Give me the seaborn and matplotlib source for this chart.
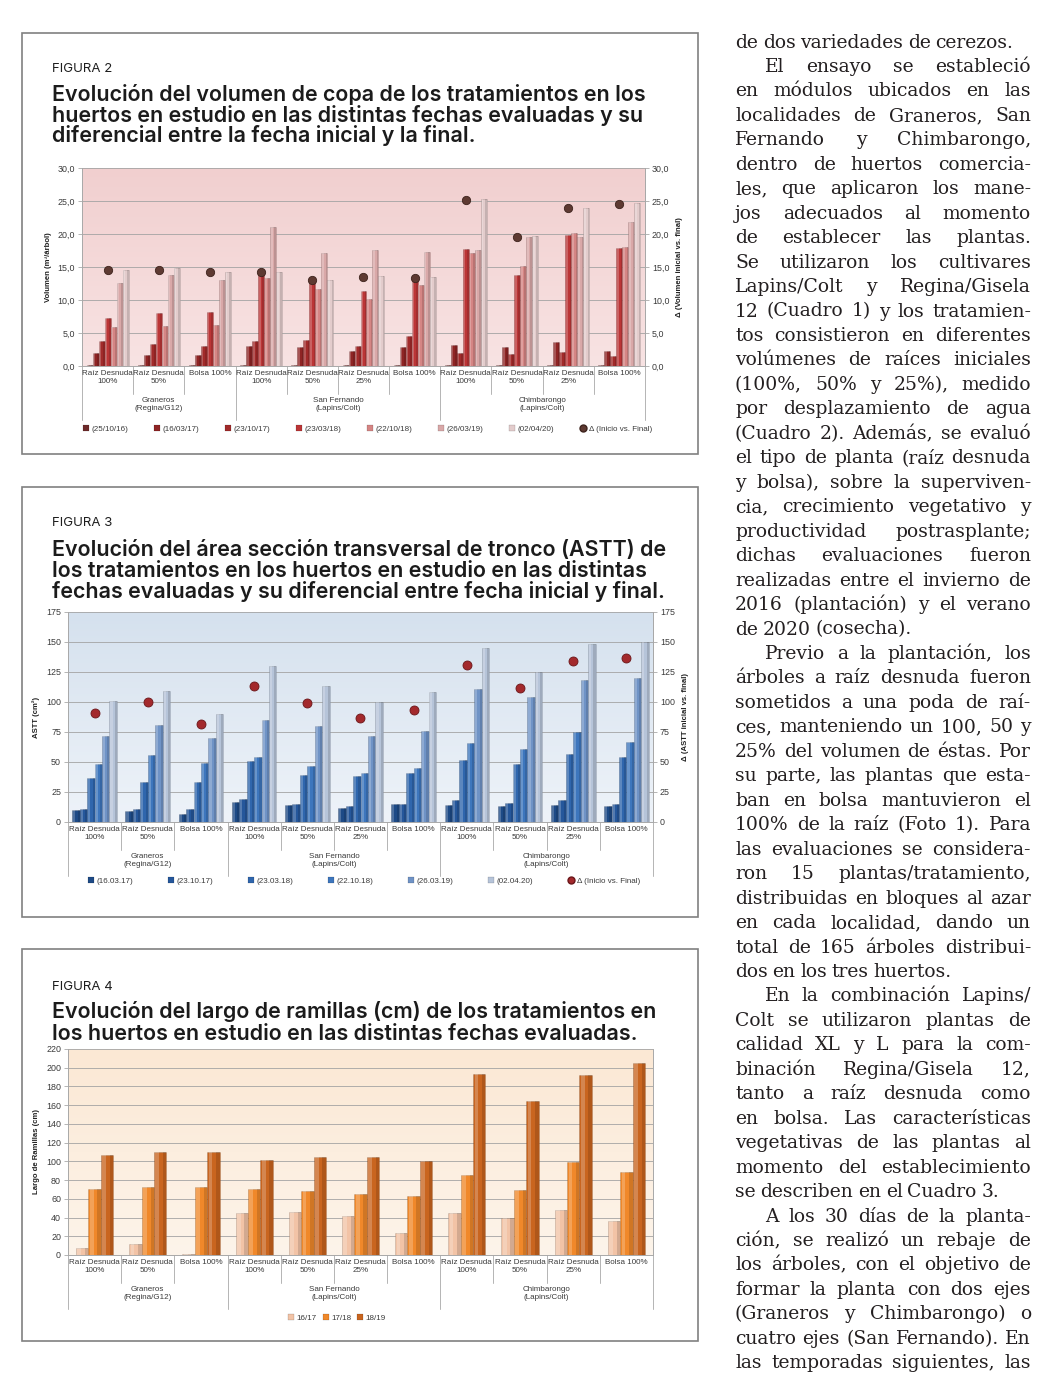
import numpy as np
import pandas as pd
import matplotlib
matplotlib.use("Agg")
import matplotlib.pyplot as plt
import seaborn as sns
from matplotlib.patches import Rectangle, Patch
from matplotlib.lines import Line2D
from matplotlib.colors import LinearSegmentedColormap
from matplotlib.font_manager import FontProperties
from matplotlib.transforms import blended_transform_factory

# ---------------------------------------------------------------- data
treatments = ["Raíz Desnuda\n100%", "Raíz Desnuda\n50%", "Bolsa 100%",
              "Raíz Desnuda\n100%", "Raíz Desnuda\n50%", "Raíz Desnuda\n25%", "Bolsa 100%",
              "Raíz Desnuda\n100%", "Raíz Desnuda\n50%", "Raíz Desnuda\n25%", "Bolsa 100%"]
sites = ["Graneros\n(Regina/G12)", "San Fernando\n(Lapins/Colt)", "Chimbarongo\n(Lapins/Colt)"]
site_counts = [3, 4, 4]

# Figura 2 : volumen de copa (m3/arbol)
fig2_series = ["(25/10/16)", "(16/03/17)", "(23/10/17)", "(23/03/18)",
               "(22/10/18)", "(26/03/19)", "(02/04/20)"]
vol_251016 = [0.1, 0.1, 0.1, 0.1, 0.1, 0.1, 0.1, 0.1, 0.1, 0.1, 0.1]
vol_160317 = [2.0, 1.6, 1.7, 3.1, 2.9, 2.3, 2.9, 3.2, 2.9, 3.7, 2.3]
vol_231017 = [3.8, 3.3, 3.0, 3.8, 3.9, 3.1, 4.5, 2.0, 1.8, 2.1, 1.5]
vol_230318 = [7.3, 8.1, 8.2, 14.6, 13.3, 11.4, 13.4, 17.8, 13.8, 19.8, 17.9]
vol_221018 = [5.9, 6.0, 6.2, 13.3, 11.6, 10.2, 12.2, 17.1, 15.1, 20.2, 18.1]
vol_260319 = [12.5, 13.8, 13.0, 21.1, 17.1, 17.5, 17.3, 17.5, 19.5, 19.6, 21.8]
vol_020420 = [14.6, 14.8, 14.3, 14.3, 13.0, 13.6, 13.5, 25.3, 19.7, 24.0, 24.7]
vol_delta = [14.5, 14.6, 14.2, 14.2, 13.0, 13.5, 13.4, 25.2, 19.6, 23.9, 24.6]

# Figura 3 : ASTT (cm2)
fig3_series = ["(16.03.17)", "(23.10.17)", "(23.03.18)", "(22.10.18)", "(26.03.19)", "(02.04.20)"]
astt_160317 = [10, 9, 7, 17, 14, 12, 15, 14, 13, 14, 13]
astt_231017 = [11, 11, 11, 19, 15, 13, 15, 18, 16, 18, 15]
astt_230318 = [37, 33, 33, 51, 39, 38, 41, 52, 48, 57, 54]
astt_221018 = [48, 56, 49, 54, 47, 41, 45, 66, 61, 75, 67]
astt_260319 = [72, 81, 70, 85, 80, 72, 76, 111, 104, 118, 120]
astt_020420 = [101, 109, 90, 130, 113, 100, 108, 145, 125, 148, 150]
astt_delta = [91, 100, 82, 113, 99, 87, 93, 131, 112, 134, 137]

# Figura 4 : largo de ramillas (cm)
fig4_series = ["16/17", "17/18", "18/19"]
ram_1617 = [8, 12, 1, 45, 46, 42, 23, 45, 39, 48, 36]
ram_1718 = [70, 73, 73, 71, 68, 65, 63, 85, 69, 99, 89]
ram_1819 = [107, 110, 110, 101, 105, 105, 100, 193, 164, 192, 205]

delta_label = "Δ (Inicio vs. Final)"

titles = {
    2: ["Evolución del volumen de copa de los tratamientos en los",
        "huertos en estudio en las distintas fechas evaluadas y su",
        "diferencial entre la fecha inicial y la final."],
    3: ["Evolución del área sección transversal de tronco (ASTT) de",
        "los tratamientos en los huertos en estudio en las distintas",
        "fechas evaluadas y su diferencial entre fecha inicial y final."],
    4: ["Evolución del largo de ramillas (cm) de los tratamientos en",
        "los huertos en estudio en las distintas fechas evaluadas."],
}

body_lines = [
    "de dos variedades de cerezos.",
    "El ensayo se estableció",
    "en módulos ubicados en las",
    "localidades de Graneros, San",
    "Fernando y Chimbarongo,",
    "dentro de huertos comercia-",
    "les, que aplicaron los mane-",
    "jos adecuados al momento",
    "de establecer las plantas.",
    "Se utilizaron los cultivares",
    "Lapins/Colt y Regina/Gisela",
    "12 (Cuadro 1) y los tratamien-",
    "tos consistieron en diferentes",
    "volúmenes de raíces iniciales",
    "(100%, 50% y 25%), medido",
    "por desplazamiento de agua",
    "(Cuadro 2). Además, se evaluó",
    "el tipo de planta (raíz desnuda",
    "y bolsa), sobre la superviven-",
    "cia, crecimiento vegetativo y",
    "productividad postrasplante;",
    "dichas evaluaciones fueron",
    "realizadas entre el invierno de",
    "2016 (plantación) y el verano",
    "de 2020 (cosecha).",
    "Previo a la plantación, los",
    "árboles a raíz desnuda fueron",
    "sometidos a una poda de raí-",
    "ces, manteniendo un 100, 50 y",
    "25% del volumen de éstas. Por",
    "su parte, las plantas que esta-",
    "ban en bolsa mantuvieron el",
    "100% de la raíz (Foto 1). Para",
    "las evaluaciones se considera-",
    "ron 15 plantas/tratamiento,",
    "distribuidas en bloques al azar",
    "en cada localidad, dando un",
    "total de 165 árboles distribui-",
    "dos en los tres huertos.",
    "En la combinación Lapins/",
    "Colt se utilizaron plantas de",
    "calidad XL y L para la com-",
    "binación Regina/Gisela 12,",
    "tanto a raíz desnuda como",
    "en bolsa. Las características",
    "vegetativas de las plantas al",
    "momento del establecimiento",
    "se describen en el Cuadro 3.",
    "A los 30 días de la planta-",
    "ción, se realizó un rebaje de",
    "los árboles, con el objetivo de",
    "formar la planta con dos ejes",
    "(Graneros y Chimbarongo) o",
    "cuatro ejes (San Fernando). En",
    "las temporadas siguientes, las",
]
indent_lines = {1, 25, 39, 48}
paragraph_end_lines = {0, 24, 38, 47}

# ---------------------------------------------------------------- setup
W, H, DPI = 1043, 1376, 100
sns.set_theme(style="white")
CHART_FONT = ["Liberation Sans", "DejaVu Sans"]
plt.rcParams["font.family"] = CHART_FONT
plt.rcParams["axes.unicode_minus"] = False

fig = plt.figure(figsize=(W / DPI, H / DPI), dpi=DPI)
fig.patch.set_facecolor("white")
renderer = fig.canvas.get_renderer()


def text_w(s, prop):
    w, h, d = renderer.get_text_width_height_descent(s, prop, ismath=False)
    return w


def fx(x):
    return x / W


def fy(y):
    return 1 - y / H


site_of = sum([[s] * n for s, n in zip(sites, site_counts)], [])
CAT = [f"{s.splitlines()[0]} | {t.replace(chr(10), ' ')}" for s, t in zip(site_of, treatments)]


def long_table(names, columns):
    recs = []
    for name, vals in zip(names, columns):
        for c, v in zip(CAT, vals):
            recs.append({"cat": c, "serie": name, "val": v})
    return pd.DataFrame(recs)


GRID = "#a3a3a3"
AX_C = "#a8a8a8"
LBL_C = "#3a3a3a"
CAT_FS = 5.8
TICK_FS = 6.4


def shade_bars(ax):
    # cylinder-like shading on each bar drawn by seaborn
    for p in list(ax.patches):
        x0, w, h = p.get_x(), p.get_width(), p.get_height()
        if h <= 0:
            continue
        ax.add_patch(Rectangle((x0 + 0.12 * w, 0), 0.3 * w, h, facecolor="white",
                               alpha=0.22, lw=0, zorder=p.get_zorder() + 0.1))
        ax.add_patch(Rectangle((x0 + 0.72 * w, 0), 0.28 * w, h, facecolor="black",
                               alpha=0.13, lw=0, zorder=p.get_zorder() + 0.1))


def chart(box, df, names, colors, width, ymax, step, fmt, ylabel, bg,
          delta=None, dcolor=None, dedge=None, dsize=34, rlabel=None):
    l, t, r, b = box
    hpx = b - t
    ax = fig.add_axes([fx(l), fy(b), (r - l) / W, hpx / H])
    sns.barplot(data=df, x="cat", y="val", hue="serie", order=CAT, hue_order=names,
                palette=colors, width=width, saturation=1, errorbar=None,
                legend=False, ax=ax, linewidth=0.4, edgecolor=(0, 0, 0, 0.22))
    shade_bars(ax)
    cmap = LinearSegmentedColormap.from_list("bg", bg)
    ax.imshow(np.linspace(0, 1, 256).reshape(-1, 1), extent=(0, 1, 0, 1),
              transform=ax.transAxes, cmap=cmap, aspect="auto", zorder=-5)
    ticks = np.arange(0, ymax + step / 2, step)
    ax.set_xlim(-0.5, len(CAT) - 0.5)
    ax.set_ylim(0, ymax)
    ax.set_yticks(ticks)
    ax.set_yticklabels([fmt(v) for v in ticks])
    ax.set_xticks([])
    ax.set_xlabel("")
    ax.set_ylabel(ylabel, fontsize=5.6, fontweight="bold", color="#222", labelpad=4)
    ax.yaxis.grid(True, color=GRID, lw=0.6)
    ax.set_axisbelow(True)
    for s in ax.spines.values():
        s.set_color(AX_C)
        s.set_linewidth(0.7)
    ax.spines["top"].set_visible(False)
    ax.tick_params(axis="y", labelsize=TICK_FS, length=3, width=0.6, color=AX_C,
                   pad=2, labelcolor=LBL_C, left=True)

    if delta is not None:
        ax2 = ax.twinx()
        sns.scatterplot(x=np.arange(len(CAT)), y=delta, ax=ax2, s=dsize, color=dcolor,
                        edgecolor=dedge, linewidth=0.6, zorder=6, legend=False)
        ax2.set_ylim(0, ymax)
        ax2.set_yticks(ticks)
        ax2.set_yticklabels([fmt(v) for v in ticks])
        ax2.set_ylabel(rlabel, fontsize=5.6, fontweight="bold", color="#222", labelpad=5)
        ax2.tick_params(axis="y", labelsize=TICK_FS, length=3, width=0.6, color=AX_C,
                        pad=2, labelcolor=LBL_C, right=True)
        for k, s in ax2.spines.items():
            s.set_visible(k == "right")
            s.set_color(AX_C)
            s.set_linewidth(0.7)
        ax2.set_xlim(-0.5, len(CAT) - 0.5)

    trans = blended_transform_factory(ax.transData, ax.transAxes)
    bounds = set()
    acc = -0.5
    bounds.add(acc)
    for n in site_counts:
        acc += n
        bounds.add(acc)
    for k in range(len(CAT) + 1):
        p = k - 0.5
        L = 54 if p in bounds else 28
        ax.plot([p, p], [0, -L / hpx], transform=trans, clip_on=False,
                color="#b4b4b4", lw=0.7)
    for i, tr in enumerate(treatments):
        ax.annotate(tr, xy=(i, 0), xycoords=trans, xytext=(0, -4.5 * 0.72),
                    textcoords="offset points", ha="center", va="top",
                    fontsize=CAT_FS, color=LBL_C, linespacing=1.2,
                    annotation_clip=False)
    start = 0
    for s, n in zip(sites, site_counts):
        c = start + (n - 1) / 2
        ax.annotate(s, xy=(c, 0), xycoords=trans, xytext=(0, -31 * 0.72),
                    textcoords="offset points", ha="center", va="top",
                    fontsize=CAT_FS, color=LBL_C, linespacing=1.2,
                    annotation_clip=False)
        start += n
    return ax


def legend(handles, labels, x0, x1, yc, expand=True, colsp=1.0):
    kw = dict(loc="center", frameon=False, ncol=len(handles), fontsize=CAT_FS,
              handlelength=0.75, handleheight=0.75, handletextpad=0.3,
              borderaxespad=0, borderpad=0, labelcolor=LBL_C)
    if expand:
        fig.legend(handles, labels, bbox_to_anchor=(fx(x0), fy(yc + 6), (x1 - x0) / W, 12 / H),
                   mode="expand", **kw)
    else:
        fig.legend(handles, labels, bbox_to_anchor=((fx(x0) + fx(x1)) / 2, fy(yc)),
                   columnspacing=colsp, **kw)


def sq(c):
    return Patch(facecolor=c, edgecolor=(0, 0, 0, 0.3), lw=0.3)


def dot(c, e):
    return Line2D([], [], marker="o", ls="", markerfacecolor=c, markeredgecolor=e,
                  markersize=5)


# ---------------------------------------------------------------- boxes & titles
for (t, b) in [(33, 454), (487, 917), (949, 1341)]:
    fig.add_artist(Rectangle((fx(22), fy(b)), 676 / W, (b - t) / H, transform=fig.transFigure,
                             fill=False, ec="#808080", lw=1.2))

TITLE_FAMILY = ["Inter", "Lato", "DejaVu Sans"]
tprop = FontProperties(family=TITLE_FAMILY, weight=600, size=14)
tsize = 14 * 593 / text_w(titles[2][0], tprop)
title_pos = {2: (68, [94, 115, 135]), 3: (522, [549, 570, 591]), 4: (985, [1011, 1033])}
for k, (yf, ys) in title_pos.items():
    fig.text(fx(52), fy(yf + 4.5), f"FIGURA {k}", fontsize=9.5, family=TITLE_FAMILY,
             color="#1e1e1e", va="baseline", ha="left")
    for line, y in zip(titles[k], ys):
        fig.text(fx(52), fy(y + 7), line, fontsize=tsize, family=TITLE_FAMILY,
                 weight=600, color="#1b1b1b", va="baseline", ha="left")

# ---------------------------------------------------------------- Figura 2
f2_colors = ["#6e2a2a", "#8e2424", "#a12a2a", "#bb3536", "#d58584", "#d9a8a8", "#e3cccc"]
df2 = long_table(fig2_series, [vol_251016, vol_160317, vol_231017, vol_230318,
                               vol_221018, vol_260319, vol_020420])
chart((82, 168, 645, 366), df2, fig2_series, f2_colors, 0.82, 30, 5,
      lambda v: f"{v:.1f}".replace(".", ","), "Volumen (m³/árbol)",
      ["#f1cfcf", "#f8e3e3"], delta=vol_delta, dcolor="#5e3a32", dedge="#3d231d",
      dsize=36, rlabel="Δ (Volumen inicial vs. final)")
legend([sq(c) for c in f2_colors] + [dot("#5e3a32", "#3d231d")],
       fig2_series + [delta_label], 83, 652, 429)

# ---------------------------------------------------------------- Figura 3
f3_colors = ["#1d4a86", "#25579b", "#2f66ad", "#3d76bd", "#6f93c6", "#b6c4d9"]
df3 = long_table(fig3_series, [astt_160317, astt_231017, astt_230318,
                               astt_221018, astt_260319, astt_020420])
chart((68, 612, 653, 822), df3, fig3_series, f3_colors, 0.84, 175, 25,
      lambda v: f"{v:.0f}", "ASTT (cm²)",
      ["#d5e1ee", "#eef3f9"], delta=astt_delta, dcolor="#a3292c", dedge="#6a1619",
      dsize=42, rlabel="Δ (ASTT inicial vs. final)")
legend([sq(c) for c in f3_colors] + [dot("#a3292c", "#6a1619")],
       fig3_series + [delta_label], 88, 640, 881)

# ---------------------------------------------------------------- Figura 4
f4_colors = ["#f2c3a6", "#f0882a", "#c9651f"]
df4 = long_table(fig4_series, [ram_1617, ram_1718, ram_1819])
ax4 = chart((68, 1049, 653, 1255), df4, fig4_series, f4_colors, 0.7, 220, 20,
            lambda v: f"{v:.0f}", "Largo de Ramillas (cm)",
            ["#fbe8d4", "#fdf4ea"])
ax4.spines["right"].set_visible(True)
legend([sq(c) for c in f4_colors], fig4_series, 290, 384, 1318, expand=False, colsp=0.7)

# ---------------------------------------------------------------- body text
COL_L, COL_R, INDENT = 735, 1031, 30
BODY_FAMILY = "DejaVu Serif"
p0 = FontProperties(family=BODY_FAMILY, size=12)
ratios = []
for i, line in enumerate(body_lines):
    if i in paragraph_end_lines:
        continue
    avail = COL_R - COL_L - (INDENT if i in indent_lines else 0)
    ratios.append(avail / text_w(line, p0))
BODY_PT = min(14.5, 12 * sorted(ratios)[2] * 0.98)
bprop = FontProperties(family=BODY_FAMILY, size=BODY_PT)
space_px = text_w("a a", bprop) - text_w("aa", bprop)
y0, dy = 42, 24.46
for i, line in enumerate(body_lines):
    yb = y0 + i * dy + 5.5
    x0 = COL_L + (INDENT if i in indent_lines else 0)
    words = line.split(" ")
    ws = [text_w(w, bprop) for w in words]
    if i in paragraph_end_lines or len(words) == 1:
        gap = space_px * 0.8
    else:
        gap = (COL_R - x0 - sum(ws)) / (len(words) - 1)
    gap = max(gap, 1.0)
    x = x0
    for w, ww in zip(words, ws):
        fig.text(fx(x), fy(yb), w, fontproperties=bprop, color="#231f20",
                 va="baseline", ha="left")
        x += ww + gap

fig.savefig("out.png", dpi=DPI, facecolor="white")
